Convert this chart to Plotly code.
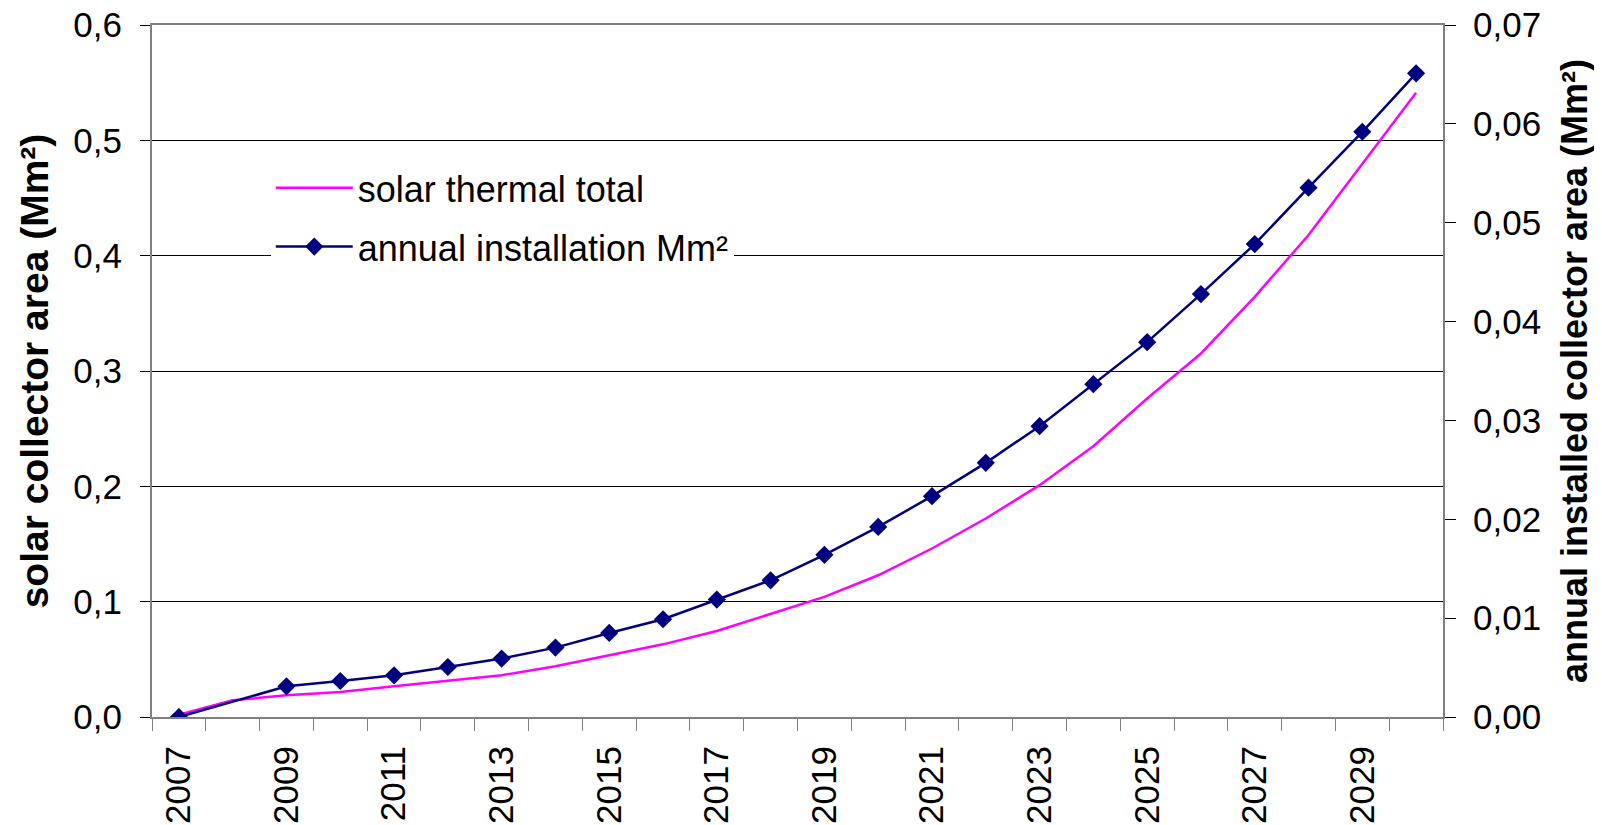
import plotly.graph_objects as go

# categories
years = ["2007", "2008", "2009", "2010", "2011", "2012", "2013", "2014",
         "2015", "2016", "2017", "2018", "2019", "2020", "2021", "2022",
         "2023", "2024", "2025", "2026", "2027", "2028", "2029", "2030"]

# only every other year gets a label
year_labels = ["2007", "", "2009", "", "2011", "", "2013", "", "2015", "",
               "2017", "", "2019", "", "2021", "", "2023", "", "2025", "",
               "2027", "", "2029", ""]

# solar thermal total (Mm2), left axis
total_area = [0.002, 0.0145, 0.0188, 0.0217, 0.0266, 0.0312, 0.0362, 0.044,
              0.0535, 0.063, 0.0746, 0.0891, 0.1041, 0.1229, 0.1461, 0.1721,
              0.201, 0.2348, 0.2762, 0.3152, 0.3643, 0.4179, 0.48, 0.5413]

# annual installation (Mm2), right axis - no value for 2008
annual_area = [0.0, None, 0.0031, 0.00364, 0.00422, 0.00506, 0.00591, 0.00702,
               0.0085, 0.00989, 0.01188, 0.01383, 0.0164, 0.01923, 0.02234, 0.02571,
               0.02942, 0.03367, 0.03792, 0.04278, 0.04784, 0.05354, 0.0592, 0.06511]

FONT = "Liberation Sans, Arial, sans-serif"
AXIS_GREY = "#808080"

fig = go.Figure()

fig.add_trace(go.Scatter(
    x=years, y=total_area,
    mode="lines",
    name="solar thermal total",
    line=dict(color="#FF00FF", width=2.5),
    legendgroup="a",
))

fig.add_trace(go.Scatter(
    x=years, y=annual_area,
    mode="lines+markers",
    name="annual installation Mm²",
    yaxis="y2",
    connectgaps=True,
    line=dict(color="#000080", width=2.5),
    marker=dict(symbol="diamond", size=14, color="#000080"),
    legendgroup="b",
))

# page body has an 8px margin, so the figure is a bit smaller than the window
fig.update_layout(
    width=1594, height=817,
    margin=dict(l=144, r=159, t=17, b=108),
    paper_bgcolor="white",
    plot_bgcolor="white",
    separators=", ",
    font=dict(family=FONT, size=35, color="black"),
    showlegend=True,
    legend=dict(
        x=0.092, y=0.808, xanchor="left", yanchor="top",
        bgcolor="white",
        font=dict(size=36),
        traceorder="grouped",
        tracegroupgap=9,
        itemwidth=77,
    ),
    xaxis=dict(
        type="category",
        range=[-0.5, 23.5],
        tickvals=years,
        ticktext=year_labels,
        tickangle=-90,
        tickson="boundaries",
        ticks="outside", ticklen=12, tickcolor=AXIS_GREY, tickwidth=1,
        ticklabelstandoff=13,
        showline=True, linecolor=AXIS_GREY, linewidth=2, mirror=True,
        showgrid=False,
        automargin=False,
    ),
    yaxis=dict(
        range=[0, 0.6], dtick=0.1, tickformat=".1f",
        ticks="outside", ticklen=10, tickcolor="black", tickwidth=1,
        ticklabelstandoff=11,
        ticklabeloverflow="allow",
        showline=True, linecolor=AXIS_GREY, linewidth=2,
        showgrid=True, gridcolor="black", gridwidth=1,
        zeroline=False,
        automargin=False,
        title=dict(text="solar collector area (Mm²)",
                   font=dict(size=39, weight="bold"), standoff=13),
    ),
    yaxis2=dict(
        range=[0, 0.07], dtick=0.01, tickformat=".2f",
        overlaying="y", side="right", anchor="x",
        ticks="outside", ticklen=11, tickcolor="black", tickwidth=1,
        ticklabelstandoff=10,
        ticklabeloverflow="allow",
        showline=True, linecolor=AXIS_GREY, linewidth=2,
        showgrid=False, zeroline=False,
        automargin=False,
        title=dict(text="annual installed collector area (Mm²)",
                   font=dict(size=36, weight="bold"), standoff=22),
    ),
    # inner half of the crossing ticks on the right axis
    yaxis3=dict(
        range=[0, 0.07], dtick=0.01,
        overlaying="y", side="right", anchor="x",
        ticks="inside", ticklen=11, tickcolor="black", tickwidth=1,
        showticklabels=False, showline=False,
        showgrid=False, zeroline=False,
        automargin=False,
    ),
)

fig.write_html("out.html")
